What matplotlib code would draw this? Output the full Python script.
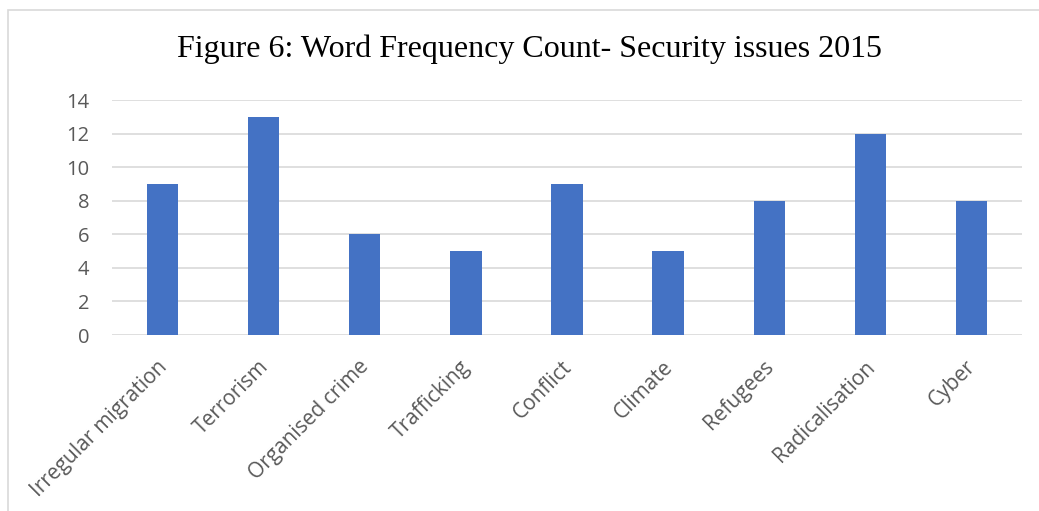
import numpy as np
import matplotlib
matplotlib.use("Agg")
import matplotlib.pyplot as plt
import matplotlib.transforms as mtransforms
from matplotlib.patches import Rectangle

categories = ["Irregular migration", "Terrorism", "Organised crime", "Trafficking",
              "Conflict", "Climate", "Refugees", "Radicalisation", "Cyber"]
counts = [9, 13, 6, 5, 9, 5, 8, 12, 8]
yticks = [0, 2, 4, 6, 8, 10, 12, 14]

fig = plt.figure(figsize=(10.39, 5.11), dpi=100)
ax = fig.add_axes([0.1078, 0.3444, 0.8758, 0.4599])

x = np.arange(len(categories))
ax.bar(x, counts, width=0.31, color="#4472C4", zorder=3)

ax.set_xlim(-0.5, len(categories) - 0.5)
ax.set_ylim(0, 14)
ax.set_yticks(yticks)
ax.set_xticks(x)

ax.grid(axis="y", color="#D9D9D9", linewidth=1.2, zorder=0)
for s in ax.spines.values():
    s.set_visible(False)
ax.tick_params(axis="both", length=0)
ax.tick_params(axis="y", pad=16.5)
ax.tick_params(axis="x", pad=14)

ax.set_xticklabels(categories, rotation=45, ha="right", rotation_mode="anchor",
                   family="Open Sans", fontsize=15, color="#595959")
# nudge the slanted labels a little left (after tick_params, which resets transforms)
shift = mtransforms.ScaledTranslation(-6 / 100, -2 / 100, fig.dpi_scale_trans)
for lab in ax.get_xticklabels():
    lab.set_transform(lab.get_transform() + shift)
for lab in ax.get_yticklabels():
    lab.set_family("Open Sans")
    lab.set_fontsize(14.5)
    lab.set_color("#595959")

fig.text(0.51, 0.903, "Figure 6: Word Frequency Count- Security issues 2015",
         ha="center", va="center", family="Liberation Serif", fontsize=23)

# chart frame, running off the right and bottom edges
fig.patches.append(Rectangle((8 / 1039, -0.1), 1.2, 1 - 10 / 511 + 0.1,
                             transform=fig.transFigure, fill=False,
                             edgecolor="#D9D9D9", linewidth=1.2))

fig.savefig("out.png", dpi=100)
